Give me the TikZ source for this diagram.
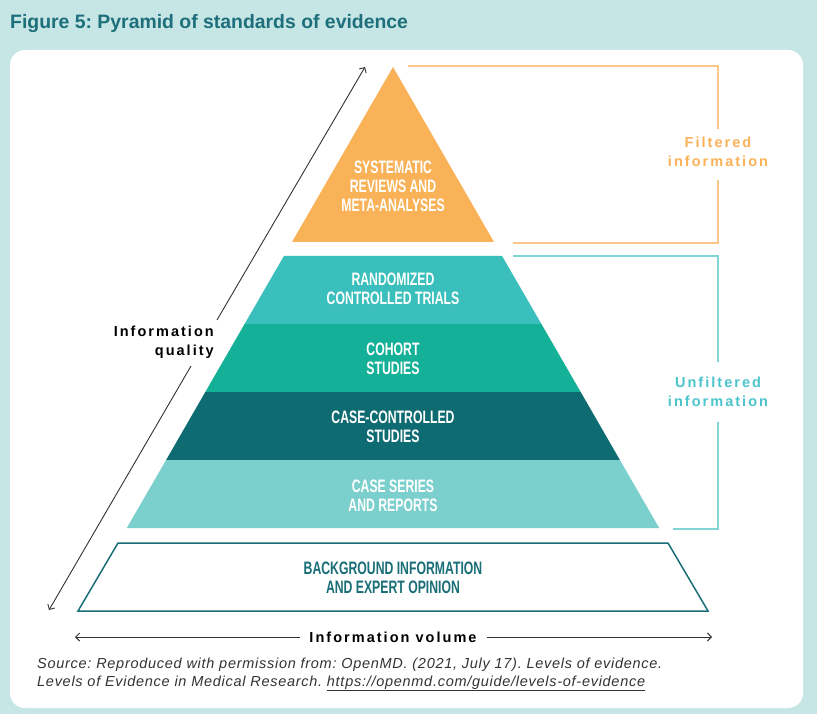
\documentclass[tikz,border=0pt]{standalone}
\usepackage{fontspec}
\setmainfont{Liberation Sans}
\newfontfamily\condfont[FakeStretch=0.68]{Liberation Sans Bold}
\newfontfamily\spfont[LetterSpace=14]{Liberation Sans Bold}
\newfontfamily\titlefont{Liberation Sans Bold}
\newfontfamily\srcfont[LetterSpace=5]{Liberation Sans Italic}
\usetikzlibrary{arrows.meta}
\definecolor{bgteal}{HTML}{C6E5E5}
\definecolor{titleteal}{HTML}{1C6F7B}
\definecolor{orangeA}{HTML}{F9B258}
\definecolor{orangeL}{HTML}{FBC688}
\definecolor{rctc}{HTML}{3BBFBD}
\definecolor{cohc}{HTML}{14B097}
\definecolor{ccc}{HTML}{0F6B72}
\definecolor{csc}{HTML}{7BCFCC}
\definecolor{bgoutline}{HTML}{1A6E78}
\definecolor{unfl}{HTML}{80D6D6}
\definecolor{unft}{HTML}{4CC4CC}
\definecolor{darkline}{HTML}{333333}
\frenchspacing
\begin{document}
\begin{tikzpicture}[x=1pt,y=-1pt,
  bandtext/.style={font=\condfont\fontsize{18}{19}\selectfont, text=white, align=center, inner sep=0pt},
  sidetext/.style={font=\spfont\fontsize{14.5}{19}\selectfont, align=center, inner sep=0pt},
  bracket/.style={line width=1.5pt},
  axisline/.style={draw=darkline, line width=0.9pt, -{Straight Barb[length=4pt,width=8pt]}},
  srctext/.style={anchor=base west, inner sep=0pt, font=\srcfont\fontsize{14.5}{18}\selectfont, text=darkline},
]
\useasboundingbox (0,0) rectangle (817,714);
\fill[bgteal] (0,0) rectangle (817,714);
\fill[white, rounded corners=15pt] (10,50) rectangle (803,708);

% title
\node[anchor=base west, inner sep=0pt, font=\titlefont\fontsize{19.4}{22}\selectfont, text=titleteal] (title) at (10,29) {Figure 5: Pyramid of standards of evidence};

% pyramid
\fill[orangeA] (393,67) -- (494,242) -- (292,242) -- cycle;
\fill[rctc] (283.9,256) -- (502.1,256) -- (541.4,324) -- (244.6,324) -- cycle;
\fill[cohc] (244.6,324) -- (541.4,324) -- (580.7,392) -- (205.3,392) -- cycle;
\fill[ccc] (205.3,392) -- (580.7,392) -- (619.9,460) -- (166.1,460) -- cycle;
\fill[csc] (166.1,460) -- (619.9,460) -- (659.2,528) -- (126.8,528) -- cycle;
\draw[bgoutline, line width=1.5pt] (118,543) -- (668,543) -- (708,611) -- (78,611) -- cycle;

\node[bandtext] (sys) at (393,186) {SYSTEMATIC\\REVIEWS AND\\META-ANALYSES};
\node[bandtext] (rct) at (393,289) {RANDOMIZED\\CONTROLLED TRIALS};
\node[bandtext] (coh) at (393,359) {COHORT\\STUDIES};
\node[bandtext] (cc) at (393,427) {CASE-CONTROLLED\\STUDIES};
\node[bandtext] (cs) at (393,496) {CASE SERIES\\AND REPORTS};
\node[bandtext, text=bgoutline] (bg) at (393,578) {BACKGROUND INFORMATION\\AND EXPERT OPINION};

% filtered bracket
\coordinate (f1) at (408,66);
\coordinate (f2) at (718,66);
\coordinate (f3) at (718,129);
\coordinate (f4) at (718,180);
\coordinate (f5) at (718,243);
\coordinate (f6) at (513,243);
\draw[bracket, orangeL] (f1) -- (f2) -- (f3);
\draw[bracket, orangeL] (f4) -- (f5) -- (f6);
\node[sidetext, text=orangeA] (filt) at (718,152) {Filtered\\information};

% unfiltered bracket
\coordinate (u1) at (513,256);
\coordinate (u2) at (718,256);
\coordinate (u3) at (718,362);
\coordinate (u4) at (718,422);
\coordinate (u5) at (718,529);
\coordinate (u6) at (673,529);
\draw[bracket, unfl] (u1) -- (u2) -- (u3);
\draw[bracket, unfl] (u4) -- (u5) -- (u6);
\node[sidetext, text=unft] (unfilt) at (718,392) {Unfiltered\\information};

% information quality axis
\coordinate (qtop) at (365,67);
\coordinate (qa) at (217,320);
\coordinate (qb) at (191,366);
\coordinate (qbot) at (49,610);
\draw[axisline] (qa) -- (qtop);
\draw[axisline] (qb) -- (qbot);
\node[sidetext, align=right, anchor=east, text=black] (quality) at (214,342) {Information\\quality};

% information volume axis
\coordinate (vl) at (75,637);
\coordinate (va) at (300,637);
\coordinate (vb) at (487,637);
\coordinate (vr) at (712,637);
\draw[axisline] (va) -- (vl);
\draw[axisline] (vb) -- (vr);
\node[sidetext, text=black] (volume) at (393,637) {Information volume};

% source
\node[srctext] (src1) at (37,668) {Source: Reproduced with permission from: OpenMD. (2021, July 17). Levels of evidence.};
\node[srctext] (src2) at (37,686) {Levels of Evidence in Medical Research. \underline{https://openmd.com/guide/levels-of-evidence}};
\end{tikzpicture}
\end{document}
